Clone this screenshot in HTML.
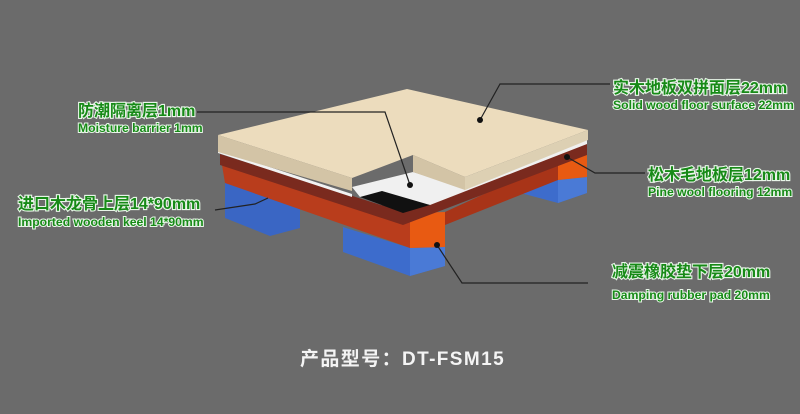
<!DOCTYPE html>
<html><head><meta charset="utf-8"><style>
html,body{margin:0;padding:0;background:#6b6b6b;}
svg{display:block}
.cn{font-family:"Liberation Sans","Noto Sans CJK SC",sans-serif;font-size:16px;font-weight:bold;fill:#178a17;stroke:#e8f5e8;stroke-width:2.2px;paint-order:stroke;}
.en{font-family:"Liberation Sans",sans-serif;font-size:12.2px;font-weight:bold;fill:#178a17;stroke:#e8f5e8;stroke-width:2px;paint-order:stroke;}
</style></head><body>
<svg width="800" height="414" viewBox="0 0 800 414" xmlns="http://www.w3.org/2000/svg">
<rect width="800" height="414" fill="#6b6b6b"/>
<polygon points="225,180 300,205 300,228 270,236 225,218" fill="#3a66c4"/>
<polygon points="343,227 410,248 445,247 445,266 410,276 343,252" fill="#3d6ccc"/>
<polygon points="410,248 445,247 445,266 410,276" fill="#4a7ad6"/>
<polygon points="500,190 558,180 587,177 587,193 558,203 502,188" fill="#3d6ccc"/>
<polygon points="558,180 587,177 587,193 558,203" fill="#4a7ad6"/>
<polygon points="222,165 410,213 410,248 225,183" fill="#b93d1c"/>
<polygon points="410,213 445,212 445,247 410,248" fill="#e85a12"/>
<polygon points="558,157 587,152 587,177 558,180" fill="#e85a12"/>
<polygon points="445,212 558,160 558,180 445,225" fill="#a83418"/>
<polygon points="220,154 403,212 587,144 587,155 403,225 220,165" fill="#7a2a1e"/>
<polygon points="218,150 352,194 352,197 218,153" fill="#f2f2f2"/>
<polygon points="352,187 413,172 465,188 587,138 587,144 430,205 360,197" fill="#f0f0f0"/>
<polygon points="360,197 382,191 430,205 403,213" fill="#111"/>
<polygon points="218,135 407,89 588,130 465,177 413,155 352,178" fill="#ecdcbd"/>
<polygon points="218,135 352,178 352,191 218,152" fill="#d3c4a6"/>
<polygon points="413,155 465,177 465,190 413,172" fill="#d3c4a6"/>
<polygon points="465,177 588,130 588,140 465,190" fill="#ddd0b3"/>
<g stroke="#222" stroke-width="1.2" fill="none">
<polyline points="480,120 500,84 610,84"/>
<polyline points="410,185 385,112 197,112"/>
<polyline points="567,157 595,173 645,173"/>
<polyline points="215,210 255,204 268,198"/>
<polyline points="437,245 462,283 588,283"/>
</g>
<g fill="#111"><circle cx="480" cy="120" r="3"/><circle cx="410" cy="185" r="3"/><circle cx="567" cy="157" r="3"/><circle cx="437" cy="245" r="3"/></g>
<text class="cn" x="613" y="93">实木地板双拼面层22mm</text>
<text class="en" x="613" y="109">Solid wood floor surface 22mm</text>
<text class="cn" x="78" y="116">防潮隔离层1mm</text>
<text class="en" x="78" y="132">Moisture  barrier 1mm</text>
<text class="cn" x="648" y="180">松木毛地板层12mm</text>
<text class="en" x="648" y="196">Pine wool flooring 12mm</text>
<text class="cn" x="18" y="209">进口木龙骨上层14*90mm</text>
<text class="en" x="18" y="226">Imported wooden keel 14*90mm</text>
<text class="cn" x="612" y="277">减震橡胶垫下层20mm</text>
<text class="en" x="612" y="299">Damping rubber pad 20mm</text>
<text x="300" y="365" font-family="Liberation Sans,Noto Sans CJK SC,sans-serif" font-size="19" font-weight="bold" fill="#f4f4f4" letter-spacing="1.4">产品型号：DT-FSM15</text>
</svg>
</body></html>
